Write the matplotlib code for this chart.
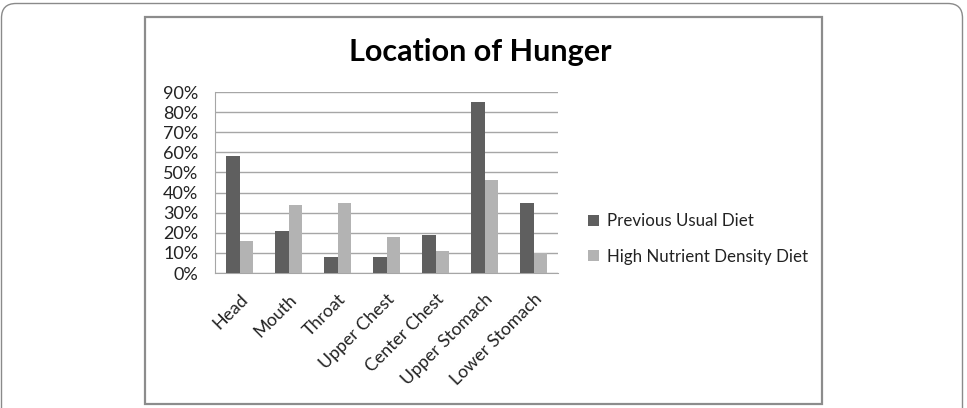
import matplotlib
matplotlib.use("Agg")
import matplotlib.pyplot as plt
from matplotlib.patches import FancyBboxPatch, Rectangle
from matplotlib.ticker import FuncFormatter, MultipleLocator
import numpy as np

categories = ["Head", "Mouth", "Throat", "Upper Chest", "Center Chest",
              "Upper Stomach", "Lower Stomach"]
previous_usual = [58, 21, 8, 8, 19, 85, 35]
high_nutrient = [16, 34, 35, 18, 11, 46, 10]
series_names = ["Previous Usual Diet", "High Nutrient Density Diet"]
title = "Location of Hunger"

FONT = ["Lato", "DejaVu Sans"]
W, H = 967, 408
fig = plt.figure(figsize=(W / 100, H / 100), dpi=100)
fig.patch.set_facecolor("white")

# outer rounded border (bottom edge off-canvas)
top_y = 1 - 3.5 / H
outer = FancyBboxPatch((1.5 / W, -0.5), (962.5 - 1.5) / W, top_y + 0.5,
                       boxstyle="round,pad=0,rounding_size=0.015",
                       transform=fig.transFigure, fill=False,
                       edgecolor="#8a8a8a", linewidth=1.0, clip_on=False,
                       mutation_aspect=W / H)
fig.add_artist(outer)
# inner chart box
inner = Rectangle((144.5 / W, (H - 404) / H), (822 - 144.5) / W, (404 - 16.5) / H,
                  transform=fig.transFigure, fill=False,
                  edgecolor="#8c8c8c", linewidth=1.6)
fig.add_artist(inner)

left, right, top, bottom = 215, 558, 92, 273
ax = fig.add_axes([left / W, (H - bottom) / H, (right - left) / W, (bottom - top) / H])

x = np.arange(len(categories))
bw = 0.28
dark = "#5f5f5f"
light = "#b3b3b3"
ax.bar(x - bw / 2, previous_usual, bw, color=dark, label=series_names[0], zorder=3)
ax.bar(x + bw / 2, high_nutrient, bw, color=light, label=series_names[1], zorder=3)

ax.set_xlim(-0.5, len(categories) - 0.5)
ax.set_ylim(0, 90)
ax.yaxis.set_major_locator(MultipleLocator(10))
ax.yaxis.set_major_formatter(FuncFormatter(lambda v, p: f"{int(v)}%"))
ax.grid(axis="y", color="#a6a6a6", linewidth=1.0, zorder=0)
ax.set_axisbelow(True)

for s in ["top", "right"]:
    ax.spines[s].set_visible(False)
ax.spines["left"].set_color("#a6a6a6")
ax.spines["bottom"].set_color("#a6a6a6")
ax.tick_params(axis="y", length=0, pad=12, labelsize=13, labelcolor="#222222")
ax.tick_params(axis="x", length=0, pad=13, labelsize=12.8, labelcolor="#222222")
ax.set_xticks(x)
ax.set_xticklabels(categories, rotation=45, ha="right", rotation_mode="anchor")
for lbl in ax.get_xticklabels() + ax.get_yticklabels():
    lbl.set_family(FONT)

fig.text(480 / W, 1 - 52 / H, title, ha="center", va="center",
         fontsize=22, fontweight="bold", family=FONT)

leg = fig.legend(loc="center left", bbox_to_anchor=(573 / W, 1 - 239 / H),
                 frameon=False, handlelength=0.65, handleheight=0.65,
                 handletextpad=0.45, labelspacing=1.15,
                 prop={"family": FONT, "size": 12.2})
for t in leg.get_texts():
    t.set_color("#222222")

fig.savefig("out.png", dpi=100, facecolor="white")
